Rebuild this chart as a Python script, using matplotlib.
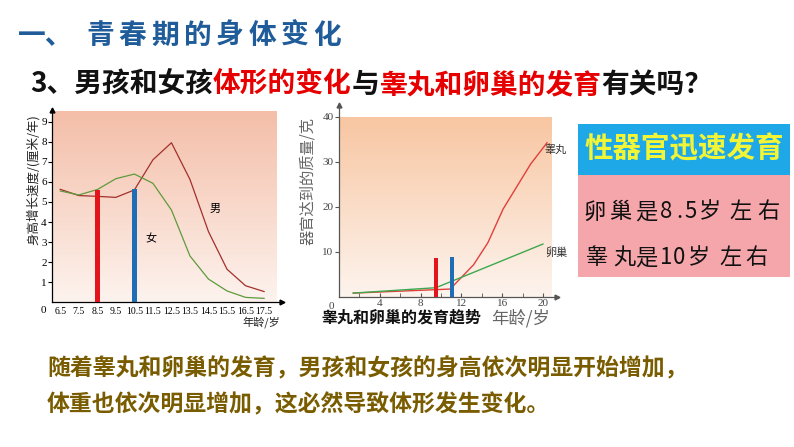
import numpy as np
import matplotlib
matplotlib.use("Agg")
import matplotlib.pyplot as plt

plt.rcParams['font.family'] = ['Noto Sans CJK SC', 'DejaVu Sans']

# left chart: height growth speed (cm / year)
ages = [6.5, 7.5, 8.5, 9.5, 10.5, 11.5, 12.5, 13.5, 14.5, 15.5, 16.5, 17.5]
boys = [5.63, 5.32, 5.28, 5.23, 5.6, 7.1, 7.95, 6.12, 3.52, 1.65, 0.83, 0.54]
girls = [5.55, 5.35, 5.62, 6.16, 6.39, 5.93, 4.6, 2.31, 1.16, 0.57, 0.25, 0.2]
age_ticks = ages
speed_ticks = [1, 2, 3, 4, 5, 6, 7, 8, 9]
left_bar_x = [8.5, 10.5]
left_bar_h = [5.62, 5.67]

# right chart: organ mass (g)
testis_x = [1.4, 10.9, 13.2, 14.6, 16.1, 18.8, 20.4]
testis_y = [0.8, 1.7, 7.1, 12.0, 19.5, 29.5, 34.2]
ovary_x = [1.4, 9.5, 12.0, 16.0, 20.0]
ovary_y = [0.8, 2.0, 4.3, 8.0, 11.7]
mass_ticks = [10, 20, 30, 40]
year_ticks = [4, 8, 12, 16, 20]
right_bar_x = [9.5, 11.1]
right_bar_h = [8.7, 8.8]

W, H = 794, 447
fig = plt.figure(figsize=(W / 100, H / 100), dpi=100)
fig.patch.set_facecolor('white')


def box(l, t, r, b):
    return [l / W, 1 - b / H, (r - l) / W, (b - t) / H]


def grad(top, bottom, n=200):
    top = np.array(matplotlib.colors.to_rgb(top))
    bottom = np.array(matplotlib.colors.to_rgb(bottom))
    f = np.linspace(0, 1, n)[:, None]
    return (top * (1 - f) + bottom * f)[:, None, :]


# ---------- left chart ----------
ax1 = fig.add_axes(box(52.3, 110, 281.7, 302.4))
ax1.set_xlim(6.07, 18.45)
ax1.set_ylim(0, 9.58)
ax1.imshow(grad('#f4bea8', '#fdf3ee'), extent=(6.07, 18.2, 0, 9.47),
           aspect='auto', zorder=0)
ax1.plot(ages, boys, color='#a3302c', lw=0.9, zorder=3)
ax1.plot(ages, girls, color='#5f9a3c', lw=0.9, zorder=3)
ax1.bar(left_bar_x, left_bar_h, width=0.24, color=['#e3141b', '#1f6db5'], zorder=4)
for s in ['top', 'right']:
    ax1.spines[s].set_visible(False)
for s in ['left', 'bottom']:
    ax1.spines[s].set_linewidth(0.9)
ax1.plot(1, 0, '>k', ms=3.5, transform=ax1.transAxes, clip_on=False)
ax1.plot(0, 1, '^k', ms=3.5, transform=ax1.transAxes, clip_on=False)
ax1.set_xticks(age_ticks)
ax1.set_xticklabels([f'{a:g}' for a in age_ticks], family='Liberation Serif', fontsize=7)
ax1.set_yticks(speed_ticks)
ax1.set_yticklabels([str(v) for v in speed_ticks], family='Liberation Serif', fontsize=8)
ax1.tick_params(axis='x', length=0, pad=3)
ax1.tick_params(axis='y', length=3, width=0.8, pad=1)
ax1.text(-0.04, -0.04, '0', transform=ax1.transAxes, family='Liberation Serif',
         fontsize=8, ha='center', va='center')
ax1.text(14.83, 4.65, '男', fontsize=8, ha='center', va='center')
ax1.text(11.42, 3.16, '女', fontsize=8, ha='center', va='center')
fig.text(33 / W, 1 - 180 / H, '身高增长速度/(厘米/年)', rotation=90,
         fontsize=9, ha='center', va='center', color='#222')
fig.text(261 / W, 1 - 322 / H, '年龄/岁', fontsize=8, ha='center', va='center',
         color='#222')

# ---------- right chart ----------
ax2 = fig.add_axes(box(339, 105, 556.7, 296.7))
ax2.set_xlim(0, 21.35)
ax2.set_ylim(0, 42.6)
ax2.imshow(grad('#f8c6a2', '#fdf4ee'), extent=(0, 20.8, 0, 40),
           aspect='auto', zorder=0)
ax2.plot(testis_x, testis_y, color='#e0403c', lw=1.0, zorder=3)
ax2.plot(ovary_x, ovary_y, color='#3da84e', lw=1.0, zorder=3)
ax2.bar(right_bar_x, right_bar_h, width=0.44, color=['#e3141b', '#1f6db5'], zorder=4)
for s in ['top', 'right']:
    ax2.spines[s].set_visible(False)
for s in ['left', 'bottom']:
    ax2.spines[s].set_color('#555')
    ax2.spines[s].set_linewidth(0.9)
ax2.plot(1, 0, '>', color='#555', ms=3.5, transform=ax2.transAxes, clip_on=False)
ax2.plot(0, 1, '^', color='#555', ms=3.5, transform=ax2.transAxes, clip_on=False)
ax2.set_xticks(year_ticks)
ax2.set_xticklabels([str(v) for v in year_ticks], family='Liberation Serif',
                    fontsize=8, color='#444')
ax2.set_xticks([2, 6, 10, 14, 18], minor=True)
ax2.set_yticks(mass_ticks)
ax2.set_yticklabels([str(v) for v in mass_ticks], family='Liberation Serif',
                    fontsize=8, color='#444')
ax2.tick_params(axis='x', which='both', direction='in', length=3, color='#555', pad=2)
ax2.tick_params(axis='y', length=3, color='#555', pad=1)
ax2.text(-0.033, -0.05, '0', transform=ax2.transAxes, family='Liberation Serif',
         fontsize=8, color='#444', ha='center', va='center')
ax2.text(20.2, 32.8, '睾丸', fontsize=8, ha='left', va='center', color='#333',
         clip_on=False)
ax2.text(20.2, 9.9, '卵巢', fontsize=8, ha='left', va='center', color='#333',
         clip_on=False)
fig.text(308 / W, 1 - 181 / H, '器官达到的质量/克', rotation=90, fontsize=11,
         ha='center', va='center', color='#666')
fig.text(521 / W, 1 - 318 / H, '年龄/岁', fontsize=12.5, ha='center', va='center',
         color='#666')
fig.text(322 / W, 1 - 318 / H, '睾丸和卵巢的发育趋势', fontsize=11.5,
         fontweight='bold', ha='left', va='center', color='#111')

# ---------- info box ----------
bg = fig.add_axes([0, 0, 1, 1], zorder=5)
bg.set_xlim(0, W)
bg.set_ylim(H, 0)
bg.axis('off')
bg.add_patch(plt.Rectangle((578, 124), 212, 51, color='#1fa8e8', lw=0))
bg.add_patch(plt.Rectangle((578, 175), 212, 102, color='#f5a6ab', lw=0))
bg.text(684, 149, '性器官迅速发育', fontsize=20.5, fontweight='bold',
        color='#f2f535', ha='center', va='center')
for ch, cx in zip('卵巢是8.5岁左右', [595, 620, 646, 666, 679, 691, 710, 741, 768]):
    bg.text(cx, 212, ch, fontsize=16, ha='center', va='center', color='#111')
for ch, cx in zip('睾丸是10岁左右', [597, 624, 646, 666, 679, 699, 731, 756]):
    bg.text(cx, 258, ch, fontsize=16, ha='center', va='center', color='#111')

# ---------- headings ----------
bg.text(18, 36, '一、', fontsize=20, fontweight='bold', color='#1f5c99',
        ha='left', va='center')
for i, ch in enumerate('青春期的身体变化'):
    bg.text(100 + 32.5 * i, 36, ch, fontsize=20, fontweight='bold',
            color='#1f5c99', ha='center', va='center')

renderer = fig.canvas.get_renderer()
x = 30
for s, c in [('3、男孩和女孩', '#111111'), ('体形的变化', '#e60000'),
             ('与', '#111111'), ('睾丸和卵巢的发育', '#e60000'),
             ('有关吗？', '#111111')]:
    t = bg.text(x, 85, s, fontsize=20, fontweight='bold', color=c,
                ha='left', va='center')
    bb = t.get_window_extent(renderer=renderer)
    x = bb.x1

bg.text(47, 369, '随着睾丸和卵巢的发育，男孩和女孩的身高依次明显开始增加，',
        fontsize=16.5, fontweight='bold', color='#7a5c00', ha='left', va='center')
bg.text(47, 405, '体重也依次明显增加，这必然导致体形发生变化。',
        fontsize=16.5, fontweight='bold', color='#7a5c00', ha='left', va='center')

fig.savefig('out.png', dpi=100)
